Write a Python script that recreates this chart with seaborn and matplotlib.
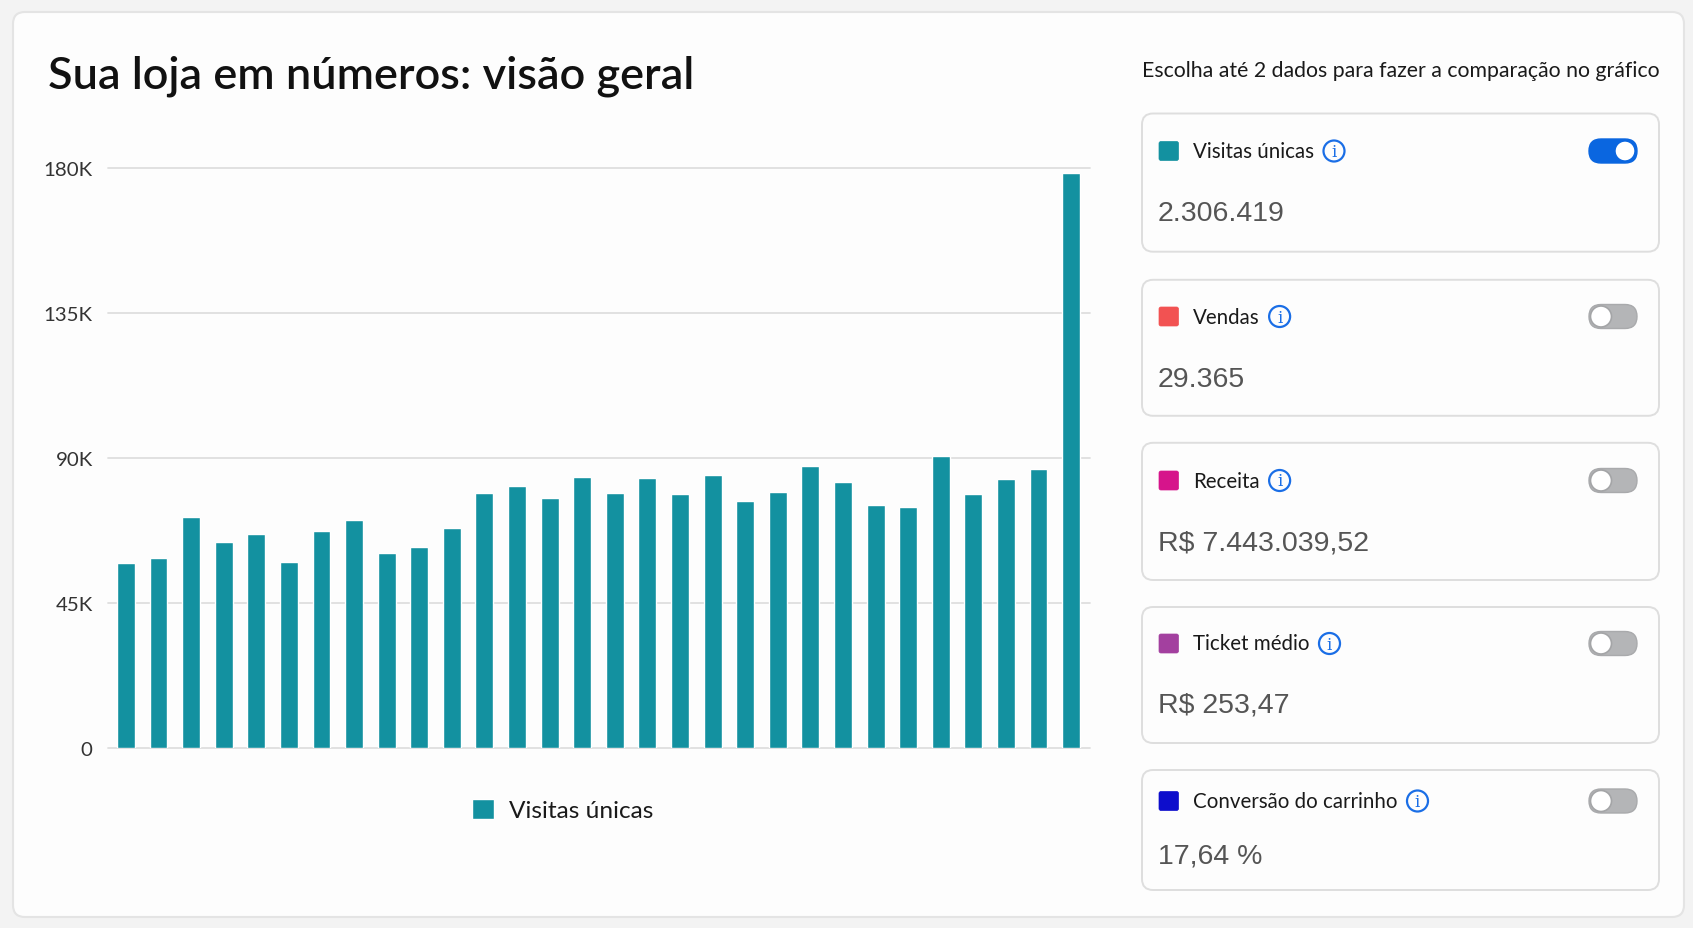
import numpy as np
import pandas as pd
import seaborn as sns
import matplotlib
matplotlib.use("Agg")
import matplotlib.pyplot as plt
from matplotlib.patches import FancyBboxPatch, Circle

# ---------------- data ----------------
days = [str(i) for i in range(1, 31)]
visitas = [57500, 59100, 71600, 63800, 66300, 57600, 67300, 70900, 60600, 62500,
           68200, 79100, 81300, 77600, 84000, 79100, 83700, 78800, 84600, 76700,
           79400, 87500, 82500, 75500, 74700, 90600, 78700, 83500, 86500, 178400]
y_ticks = [0, 45000, 90000, 135000, 180000]
y_tick_labels = ["0", "45K", "90K", "135K", "180K"]
series_label = "Visitas únicas"
title_text = "Sua loja em números: visão geral"
subtitle_text = "Escolha até 2 dados para fazer a comparação no gráfico"
metric_names = ["Visitas únicas", "Vendas", "Receita", "Ticket médio", "Conversão do carrinho"]
metric_values = ["2.306.419", "29.365", "R$ 7.443.039,52", "R$ 253,47", "17,64 %"]
metric_active = [True, False, False, False, False]

# ---------------- styles ----------------
TEAL = "#1391a0"
metric_colors = [TEAL, "#f25252", "#d6148b", "#a3409f", "#0d0dcc"]
BLUE = "#1a6ee6"

sns.set_theme(style="white")
plt.rcParams["font.family"] = ["Lato", "DejaVu Sans"]

W, H = 1693, 929
fig = plt.figure(figsize=(W / 100, H / 100), dpi=100)
fig.patch.set_facecolor("#f3f3f3")

bg = fig.add_axes([0, 0, 1, 1], zorder=0)
bg.set_xlim(0, W)
bg.set_ylim(H, 0)
bg.axis("off")

def rbox(x0, y0, x1, y1, r, fc, ec, lw=1.2, z=1):
    p = FancyBboxPatch((x0, y0), x1 - x0, y1 - y0,
                       boxstyle=f"round,pad=0,rounding_size={r}",
                       fc=fc, ec=ec, lw=lw, zorder=z)
    bg.add_patch(p)
    return p

# outer card
rbox(13, 13, 1684, 918, 12, "#fdfdfd", "#e4e4e4", 1.5)

# title
bg.text(48, 76, title_text, fontsize=32.4, fontweight="semibold", color="#111111",
        va="center", ha="left")
bg.text(1142, 71, subtitle_text, fontsize=15.3, color="#1a1a1a", va="center", ha="left")

# ---------------- chart ----------------
ax = fig.add_axes([108 / W, 1 - 749 / H, (1090 - 108) / W, (749 - 169) / H], zorder=2)
ax.patch.set_alpha(0)
df = pd.DataFrame({"dia": days, "visitas": visitas})
sns.barplot(data=df, x="dia", y="visitas", color=TEAL, saturation=1, width=0.55,
            label=series_label, ax=ax)
ax.set_xlim(-0.55, 29.58)
ax.set_ylim(0, 180000)
ax.set_yticks(y_ticks)
ax.set_yticklabels(y_tick_labels)
ax.set_xticks([])
ax.set_xlabel("")
ax.set_ylabel("")
ax.tick_params(axis="y", length=0, pad=11, labelsize=14.7, labelcolor="#333333")
for s in ax.spines.values():
    s.set_visible(False)
ax.grid(axis="y", color="#dedede", lw=1.3)
ax.set_axisbelow(True)
for gl in ax.get_ygridlines():
    gl.set_clip_on(False)

leg = ax.legend(loc="center", bbox_to_anchor=(563 / W, 1 - 811 / H),
                bbox_transform=fig.transFigure, frameon=False, fontsize=17.6,
                handlelength=0.9, handleheight=0.9, handletextpad=0.6)
for t in leg.get_texts():
    t.set_color("#1a1a1a")

# ---------------- right panel cards ----------------
cards_y = [(114.5, 252.7), (280.8, 416.8), (443.8, 581), (608, 744), (771, 891)]
row_y = [152, 317.5, 481.5, 644.5, 802]
val_y = [214, 380, 544, 706, 857]

renderer = fig.canvas.get_renderer()
for i, name in enumerate(metric_names):
    y0, y1 = cards_y[i]
    rbox(1142, y0, 1659, y1, 11, "#fdfdfd", "#dedede", 1.4, z=2)
    ry = row_y[i]
    # colour square
    rbox(1159, ry - 9.5, 1178.5, ry + 9.5, 2, metric_colors[i], metric_colors[i], 0.5, z=3)
    t = bg.text(1193, ry, name, fontsize=14.8, color="#1a1a1a", va="center", ha="left", zorder=4)
    bb = t.get_window_extent(renderer)
    cx = bb.x1 + 20
    bg.add_patch(Circle((cx, ry), 10.5, fc="none", ec=BLUE, lw=1.6, zorder=4))
    bg.text(cx, ry + 0.5, "i", fontsize=12, family="DejaVu Serif", color=BLUE,
            ha="center", va="center", zorder=5)
    # value
    bg.text(1158, val_y[i], metric_values[i], fontsize=20.5, family="Liberation Sans",
            color="#555555", va="center", ha="left", zorder=4)
    # toggle
    tx0, tx1 = 1589, 1637
    th = 24
    if metric_active[i]:
        rbox(tx0, ry - th / 2, tx1, ry + th / 2, th / 2, "#0a66e0", "#0a66e0", 1, z=4)
        bg.add_patch(Circle((tx1 - 12, ry), 10, fc="white", ec="#0a66e0", lw=1, zorder=5))
    else:
        rbox(tx0, ry - th / 2, tx1, ry + th / 2, th / 2, "#b4b5b7", "#a9aaac", 1, z=4)
        bg.add_patch(Circle((tx0 + 12, ry), 10.5, fc="white", ec="#a4a5a7", lw=1.2, zorder=5))

fig.savefig("out.png", dpi=100, facecolor=fig.get_facecolor())
